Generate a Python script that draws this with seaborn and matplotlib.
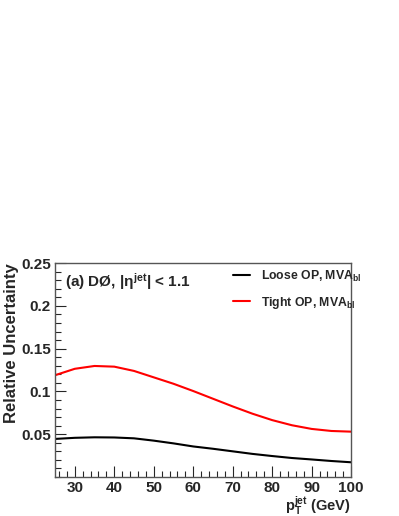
import seaborn as sns
import matplotlib.pyplot as plt
import pandas as pd
from matplotlib.ticker import MultipleLocator

# values
pt = [25, 30, 35, 40, 45, 50, 55, 60, 65, 70, 75, 80, 85, 90, 95, 100]
loose = [0.0445, 0.0458, 0.0464, 0.0462, 0.0452, 0.0425, 0.0393, 0.0357,
         0.0330, 0.0300, 0.0270, 0.0245, 0.0222, 0.0205, 0.0187, 0.0172]
tight = [0.119, 0.1265, 0.1298, 0.1290, 0.1240, 0.1165, 0.109, 0.1005,
         0.0915, 0.0825, 0.0740, 0.0665, 0.0605, 0.0562, 0.0538, 0.053]
labels = [r'Loose OP, MVA$_{\mathrm{bl}}$', r'Tight OP, MVA$_{\mathrm{bl}}$']

df = pd.concat([
    pd.DataFrame({'pt': pt, 'unc': loose, 'series': labels[0]}),
    pd.DataFrame({'pt': pt, 'unc': tight, 'series': labels[1]}),
])

sns.set_style('ticks')
plt.rcParams['font.family'] = ['Liberation Sans', 'DejaVu Sans']
plt.rcParams['font.weight'] = 'bold'
plt.rcParams['mathtext.fontset'] = 'custom'
plt.rcParams['mathtext.rm'] = 'Liberation Sans:bold'
plt.rcParams['mathtext.bf'] = 'Liberation Sans:bold'
plt.rcParams['mathtext.it'] = 'Liberation Sans'

fig = plt.figure(figsize=(3.99, 5.16), dpi=100)
ax = fig.add_axes([0.138, 0.0756, 0.742, 0.4144])

sns.lineplot(data=df, x='pt', y='unc', hue='series',
             palette=['black', 'red'], linewidth=1.5, ax=ax)

ax.set_xlim(25, 100)
ax.set_ylim(0, 0.25)
ax.xaxis.set_major_locator(MultipleLocator(10))
ax.xaxis.set_minor_locator(MultipleLocator(2))
ax.yaxis.set_minor_locator(MultipleLocator(0.01))
ax.set_yticks([0.05, 0.1, 0.15, 0.2, 0.25])
ax.set_yticklabels(['0.05', '0.1', '0.15', '0.2', '0.25'])
ax.tick_params(which='major', direction='in', length=8, width=0.8,
               labelsize=11, pad=3, top=False, right=False)
ax.tick_params(which='minor', direction='in', length=4, width=0.8,
               top=False, right=False)
for s in ax.spines.values():
    s.set_color('#555555')
    s.set_linewidth(1.0)

ax.set_xlabel(r'$\mathbf{p}_{\mathbf{T}}^{\mathrm{jet}}$ (GeV)', fontsize=10.5,
              fontweight='bold', loc='right', labelpad=-0.5)
ax.set_ylabel('Relative Uncertainty', fontsize=12, fontweight='bold',
              loc='top', labelpad=1.5)

ax.text(0.035, 0.915, r'(a) DØ, |$\eta^{\mathrm{jet}}$| < 1.1', transform=ax.transAxes,
        fontsize=11, fontweight='bold', va='center')

ax.legend(frameon=False, loc='upper left', bbox_to_anchor=(0.6, 0.975),
          borderaxespad=0, borderpad=0, handlelength=1.4, handletextpad=0.9,
          labelspacing=0.9, prop={'weight': 'bold', 'size': 8.8})

fig.savefig('out.png', dpi=100)
